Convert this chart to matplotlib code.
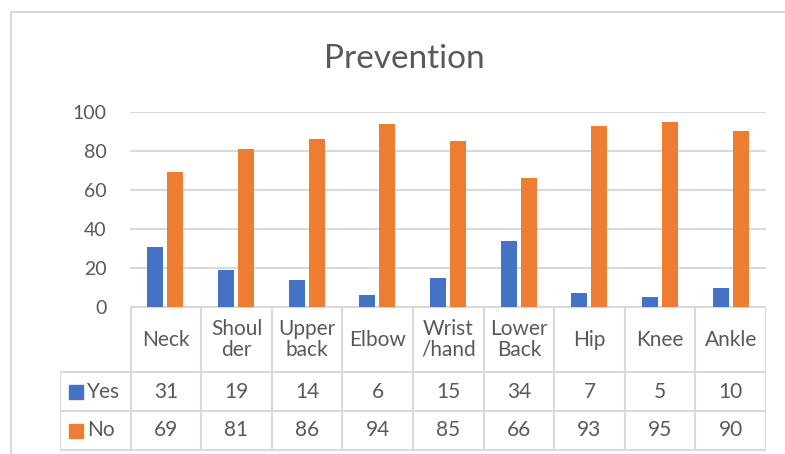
import matplotlib.pyplot as plt
from matplotlib.lines import Line2D
import numpy as np

# chart data
parts = ["Neck", "Shoul\nder", "Upper\nback", "Elbow", "Wrist\n/hand",
         "Lower\nBack", "Hip", "Knee", "Ankle"]
yes = [31, 19, 14, 6, 15, 34, 7, 5, 10]
no = [69, 81, 86, 94, 85, 66, 93, 95, 90]
series = ["Yes", "No"]
yticks = [0, 20, 40, 60, 80, 100]

BLUE = "#4472C4"
ORANGE = "#ED7D31"
GRID = "#D9D9D9"
TXT = "#595959"

plt.rcParams["font.family"] = ["Lato", "DejaVu Sans"]

W, H = 785, 454
fig = plt.figure(figsize=(W / 100, H / 100), dpi=100)

# outer chart border (only left/top visible)
fig.add_artist(Line2D([11 / W, 11 / W], [0, 1 - 12 / H], color=GRID, lw=1.5))
fig.add_artist(Line2D([11 / W, 1], [1 - 12 / H, 1 - 12 / H], color=GRID, lw=1.5))

fig.text(404 / W, 1 - 59 / H, "Prevention", ha="center", va="center",
         fontsize=24, color=TXT)

# bars
ax = fig.add_axes([130 / W, 1 - 307 / H, 636 / W, 195 / H])
x = np.arange(len(parts))
bw = 0.227
ax.bar(x - 0.142, yes, bw, color=BLUE, zorder=3)
ax.bar(x + 0.142, no, bw, color=ORANGE, zorder=3)
ax.set_xlim(-0.5, len(parts) - 0.5)
ax.set_ylim(0, 100)
ax.set_yticks(yticks)
ax.set_xticks([])
ax.tick_params(axis="y", length=0, pad=17, labelsize=14, labelcolor=TXT)
ax.yaxis.grid(True, color=GRID, lw=1.5)
for s in ax.spines.values():
    s.set_visible(False)

# data table underneath
n = len(parts)
tab = fig.add_axes([60 / W, 1 - 451 / H, 706 / W, 144 / H])
tab.set_xlim(-1.5, n - 0.5)
tab.set_ylim(144, 0)
tab.axis("off")
rows = [0, 65, 104, 143]
lk = dict(color=GRID, lw=1.5, solid_capstyle="projecting")
tab.plot([-0.5, n - 0.5], [rows[0], rows[0]], **lk)
for r in rows[1:]:
    tab.plot([-1.5, n - 0.5], [r, r], **lk)
tab.plot([-1.5, -1.5], [rows[1], rows[3]], **lk)
for k in range(n + 1):
    tab.plot([k - 0.5, k - 0.5], [rows[0], rows[3]], **lk)

for i, lab in enumerate(parts):
    tab.text(i, (rows[0] + rows[1]) / 2, lab, ha="center", va="center",
             fontsize=15, color=TXT, linespacing=1.05)
    tab.text(i, (rows[1] + rows[2]) / 2, str(yes[i]), ha="center",
             va="center", fontsize=15, color=TXT)
    tab.text(i, (rows[2] + rows[3]) / 2, str(no[i]), ha="center",
             va="center", fontsize=15, color=TXT)

# series keys in the row-label column
for j, (name, col) in enumerate(zip(series, [BLUE, ORANGE])):
    yc = (rows[j + 1] + rows[j + 2]) / 2
    tab.plot([-1.27], [yc], marker="s", ms=9.5, color=col, mec=col)
    tab.text(-1.12, yc, name, ha="left", va="center", fontsize=15, color=TXT)

fig.savefig("out.png", dpi=100)
